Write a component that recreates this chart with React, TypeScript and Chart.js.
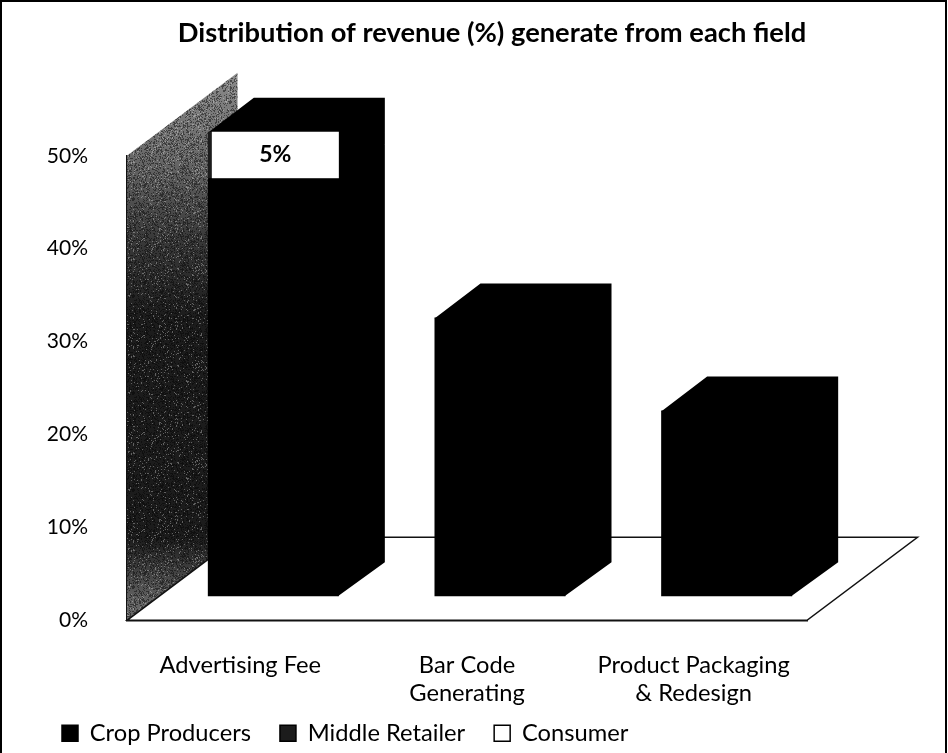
import React, { useEffect, useRef } from "react";
import { Chart, registerables } from "chart.js";

Chart.register(...registerables);

const categories = ["Advertising Fee", ["Bar Code", "Generating"], ["Product Packaging", "& Redesign"]];
const cropProducers = [45, 30, 20];
const middleRetailer = [5, 0, 0];
const consumer = [0, 0, 0];
const yTicksMax = 50;
const yTickStep = 10;
const title = "Distribution of revenue (%) generate from each field";
const FONT = "Lato, Carlito, Calibri, sans-serif";

const BAR_SHIFT = { x: 33, y: -24 };
const BAR_DEPTH = { x: 46, y: -34 };
const FLOOR_DEPTH = { x: 110.5, y: -83 };

const poly = (ctx: CanvasRenderingContext2D, pts: number[][]) => {
  ctx.beginPath();
  pts.forEach(([x, y], i) => (i ? ctx.lineTo(x, y) : ctx.moveTo(x, y)));
  ctx.closePath();
};

// fixed stipple texture imitating the scanned halftone of the grey wall
const stipple = (ctx: CanvasRenderingContext2D) => {
  const c = document.createElement("canvas");
  c.width = c.height = 97;
  const p = c.getContext("2d")!;
  let s = 12345;
  for (let y = 0; y < 97; y++)
    for (let x = 0; x < 97; x++) {
      s = (s * 1103515245 + 12345) & 0x7fffffff;
      if ((s >> 16) % 100 < 6) {
        p.fillStyle = "rgba(255,255,255,0.3)";
        p.fillRect(x, y, 1, 1);
      } else if ((s >> 16) % 100 > 70) {
        p.fillStyle = "rgba(0,0,0,0.45)";
        p.fillRect(x, y, 1, 1);
      }
    }
  return ctx.createPattern(c, "repeat")!;
};

const scene3d = {
  id: "scene3d",
  afterLayout(chart: any) {
    // keep the wrapped category labels from being clipped by the axis box
    chart.scales.x.bottom = chart.height;
  },
  beforeDraw(chart: any) {
    const { ctx, width } = chart;
    ctx.save();
    ctx.strokeStyle = "#000";
    ctx.lineWidth = 2;
    ctx.beginPath();
    ctx.moveTo(1, chart.height);
    ctx.lineTo(1, 1);
    ctx.lineTo(width - 2, 1);
    ctx.lineTo(width - 2, chart.height);
    ctx.stroke();
    ctx.restore();
  },
  beforeDatasetsDraw(chart: any) {
    const { ctx, chartArea: a } = chart;
    const d = FLOOR_DEPTH;
    ctx.save();
    // left wall
    const g = ctx.createLinearGradient(0, a.top + d.y, 0, a.bottom);
    g.addColorStop(0, "#8a8a8a");
    g.addColorStop(0.15, "#6a6a6a");
    g.addColorStop(0.3, "#3a3a3a");
    g.addColorStop(0.45, "#1c1c1c");
    g.addColorStop(0.85, "#1c1c1c");
    g.addColorStop(0.97, "#666");
    poly(ctx, [
      [a.left, a.bottom],
      [a.left, a.top],
      [a.left + d.x, a.top + d.y],
      [a.left + d.x, a.bottom + d.y],
    ]);
    ctx.fillStyle = g;
    ctx.fill();
    ctx.fillStyle = stipple(ctx);
    ctx.fill();
    // floor
    poly(ctx, [
      [a.left, a.bottom],
      [a.right, a.bottom],
      [a.right + d.x, a.bottom + d.y],
      [a.left + d.x, a.bottom + d.y],
    ]);
    ctx.fillStyle = "#fff";
    ctx.fill();
    ctx.strokeStyle = "#111";
    ctx.lineWidth = 1.5;
    ctx.stroke();
    // bar top and side faces
    ctx.fillStyle = "#000";
    chart.data.datasets.forEach((ds: any, i: number) => {
      chart.getDatasetMeta(i).data.forEach((el: any, j: number) => {
        if (!ds.data[j]) return;
        const l = el.x - el.width / 2 + BAR_SHIFT.x;
        const r = el.x + el.width / 2 + BAR_SHIFT.x;
        const t = el.y + BAR_SHIFT.y;
        const b = el.base + BAR_SHIFT.y;
        poly(ctx, [
          [l, t + 1],
          [l + BAR_DEPTH.x, t + BAR_DEPTH.y],
          [r + BAR_DEPTH.x, t + BAR_DEPTH.y],
          [r + BAR_DEPTH.x, b + BAR_DEPTH.y],
          [r - 1, b],
          [r - 1, t + 1],
        ]);
        ctx.fill();
      });
    });
    ctx.restore();
    ctx.save();
    ctx.translate(BAR_SHIFT.x, BAR_SHIFT.y);
  },
  afterDatasetsDraw(chart: any) {
    const { ctx } = chart;
    ctx.restore();
    // value label of the Middle Retailer segment
    const el = chart.getDatasetMeta(1).data[0];
    const cx = el.x + BAR_SHIFT.x + 2;
    const top = el.y + BAR_SHIFT.y;
    const bottom = el.base + BAR_SHIFT.y;
    ctx.save();
    ctx.fillStyle = "#fff";
    ctx.fillRect(cx - 63.5, top, 127, bottom - top);
    ctx.fillStyle = "#000";
    ctx.font = `bold 23px ${FONT}`;
    ctx.textAlign = "center";
    ctx.textBaseline = "middle";
    ctx.fillText(`${middleRetailer[0]}%`, cx, (top + bottom) / 2);
    ctx.restore();
  },
};

export default function App() {
  const ref = useRef<HTMLCanvasElement>(null);
  useEffect(() => {
    const chart = new Chart(ref.current!, {
      type: "bar",
      data: {
        labels: categories as any,
        datasets: [
          { label: "Crop Producers", data: cropProducers, backgroundColor: "#000", borderColor: "#000", borderWidth: 0 },
          { label: "Middle Retailer", data: middleRetailer, backgroundColor: "#1c1c1c", borderColor: "#000", borderWidth: 0 },
          { label: "Consumer", data: consumer, backgroundColor: "#fff", borderColor: "#000", borderWidth: 0 },
        ],
      },
      plugins: [scene3d],
      options: {
        responsive: false,
        animation: false,
        layout: { padding: { left: 33, right: -3, top: 0, bottom: -2 } },
        datasets: { bar: { barPercentage: 0.578, categoryPercentage: 1, clip: false } as any },
        plugins: {
          tooltip: { enabled: false },
          title: {
            display: true,
            text: title,
            color: "#000",
            font: { family: FONT, size: 27.3, weight: "bold" },
            padding: { top: 17, bottom: 106 },
          },
          legend: {
            position: "bottom",
            align: "start",
            onClick: () => {},
            labels: {
              color: "#000",
              font: { family: FONT, size: 23.7 },
              boxWidth: 16,
              boxHeight: 16,
              padding: 29,
              generateLabels: (c: any) =>
                c.data.datasets.map((ds: any, i: number) => ({
                  text: ds.label,
                  fillStyle: ds.backgroundColor,
                  strokeStyle: "#000",
                  lineWidth: 1.5,
                  datasetIndex: i,
                  fontColor: "#000",
                })),
            },
          },
        },
        scales: {
          x: {
            stacked: true,
            grid: { display: false },
            border: { display: true, color: "#111", width: 1.5 },
            ticks: {
              color: "#000",
              maxRotation: 0,
              autoSkip: false,
              padding: 23,
              font: { family: FONT, size: 23.7, lineHeight: 1.18 },
            },
            afterFit: (s: any) => {
              s.height = 72;
            },
          },
          y: {
            stacked: true,
            min: 0,
            max: yTicksMax,
            grid: { display: false },
            border: { display: true, color: "#111", width: 1.5 },
            ticks: {
              stepSize: yTickStep,
              color: "#000",
              padding: 31,
              font: { family: FONT, size: 21 },
              callback: (v: any) => `${v}%`,
            },
            afterFit: (s: any) => {
              s.width = 94;
            },
          },
          yFill: {
            type: "linear",
            position: "right",
            display: true,
            grid: { display: false },
            border: { display: false },
            ticks: { display: false },
            afterFit: (s: any) => {
              s.width = 144;
            },
          },
        } as any,
      },
    } as any);
    return () => chart.destroy();
  }, []);
  return (
    <canvas
      ref={ref}
      width={948}
      height={753}
      style={{ position: "absolute", left: 0, top: 0, display: "block" }}
    />
  );
}
